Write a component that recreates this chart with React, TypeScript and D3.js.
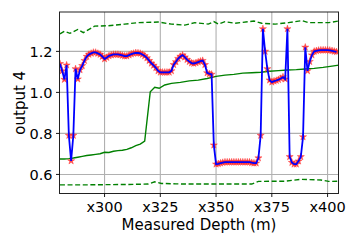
import React from "react";
import * as d3 from "d3";

// Measured depth (m) for the prediction series
const depth: number[] = d3.range(280, 405, 1);
// output 4 prediction values (one per metre)
const output4: number[] = [
  1.14, 1.105, 1.063, 1.133, 0.79, 0.666, 0.79, 1.115, 1.065, 1.11,
  1.13, 1.155, 1.175, 1.185, 1.19, 1.195, 1.195, 1.19, 1.185, 1.175,
  1.163, 1.17, 1.178, 1.182, 1.185, 1.185, 1.185, 1.183, 1.18, 1.177,
  1.177, 1.182, 1.187, 1.19, 1.193, 1.192, 1.19, 1.185, 1.178, 1.168,
  1.155, 1.142, 1.132, 1.12, 1.105, 1.098, 1.098, 1.098, 1.098, 1.098,
  1.105, 1.135, 1.149, 1.165, 1.175, 1.182, 1.172, 1.16, 1.15, 1.143,
  1.141, 1.144, 1.148, 1.152, 1.155, 1.135, 1.095, 1.09, 1.088, 0.743,
  0.65, 0.652, 0.655, 0.658, 0.66, 0.66, 0.66, 0.66, 0.66, 0.66,
  0.66, 0.66, 0.66, 0.66, 0.66, 0.66, 0.657, 0.655, 0.655, 0.68,
  0.79, 1.31, 1.2, 1.115, 1.06, 1.05, 1.055, 1.058, 1.062, 1.068,
  1.075, 1.065, 1.31, 0.686, 0.658, 0.65, 0.65, 0.665, 0.686, 0.783,
  1.22, 1.105, 1.15, 1.182, 1.2, 1.203, 1.205, 1.206, 1.206, 1.206,
  1.206, 1.205, 1.203, 1.2, 1.198,
];

// Reference (green) mean line
const meanDepth: number[] = [
  280, 282, 284, 286, 288, 290, 292, 294, 296, 298, 300, 302, 304, 306, 308,
  310, 312, 314, 316, 318, 320.5, 322.5, 324.5, 327, 330, 334, 338, 342, 346,
  350, 354, 358, 362, 366, 370, 374, 378, 382, 386, 390, 394, 398, 402, 405,
];
const meanValue: number[] = [
  0.675, 0.675, 0.677, 0.68, 0.684, 0.688, 0.692, 0.695, 0.698, 0.701, 0.708,
  0.707, 0.713, 0.716, 0.718, 0.722, 0.73, 0.74, 0.748, 0.762, 1.003, 1.025,
  1.02, 1.036, 1.044, 1.049, 1.056, 1.06, 1.068, 1.078, 1.084, 1.088, 1.094,
  1.096, 1.098, 1.103, 1.106, 1.109, 1.111, 1.114, 1.117, 1.122, 1.128, 1.133,
];

// Upper dashed bound
const upperDepth: number[] = [
  280, 282, 284.5, 288, 290.5, 295.5, 301.5, 309, 315, 324, 330, 336, 340.5,
  346.5, 349, 351, 354, 358.5, 367, 370.5, 376.5, 382.5, 388.5, 391.5, 400.5, 405,
];
const upperValue: number[] = [
  1.285, 1.298, 1.288, 1.307, 1.291, 1.323, 1.325, 1.333, 1.34, 1.343, 1.333,
  1.328, 1.34, 1.333, 1.345, 1.333, 1.345, 1.337, 1.348, 1.337, 1.333, 1.34,
  1.35, 1.34, 1.34, 1.348,
];

// Lower dashed bound
const lowerDepth: number[] = [
  280, 290, 299, 310, 319.5, 322.5, 325.5, 332, 339, 354, 366, 369, 381, 388,
  397, 400.5, 405,
];
const lowerValue: number[] = [
  0.549, 0.549, 0.55, 0.551, 0.553, 0.564, 0.556, 0.554, 0.553, 0.553, 0.553,
  0.566, 0.567, 0.576, 0.573, 0.566, 0.567,
];

const xTicks: number[] = [300, 325, 350, 375, 400];
const yTicks: number[] = [0.6, 0.8, 1.0, 1.2];

const W = 358;
const H = 244;
const L = 59.5, R = 338.5, T = 12, B = 193.5;
const FONT = "DejaVu Sans, sans-serif";

export default function App() {
  const x = d3.scaleLinear().domain([279.8, 404.9]).range([L, R]);
  const y = d3.scaleLinear().domain([0.507, 1.392]).range([B, T]);

  const line = (xs: number[], ys: number[]) =>
    d3
      .line<number>()
      .x((_, i) => x(xs[i]))
      .y((d) => y(d))(ys) || "";

  const star = d3.symbol().type(d3.symbolStar).size(16)() || "";

  return (
    <svg
      width={W}
      height={H}
      style={{ position: "absolute", left: 0, top: 0, background: "#fff" }}
      fontFamily={FONT}
    >
      <defs>
        <clipPath id="clip">
          <rect x={L} y={T} width={R - L} height={B - T} />
        </clipPath>
      </defs>
      {/* grid */}
      {xTicks.map((t) => (
        <line key={"gx" + t} x1={x(t)} x2={x(t)} y1={T} y2={B} stroke="#b0b0b0" strokeWidth={1.1} />
      ))}
      {yTicks.map((t) => (
        <line key={"gy" + t} x1={L} x2={R} y1={y(t)} y2={y(t)} stroke="#b0b0b0" strokeWidth={1.1} />
      ))}
      <g clipPath="url(#clip)">
        <path d={line(upperDepth, upperValue)} fill="none" stroke="#008000" strokeWidth={1.4} strokeDasharray="5,2.6" />
        <path d={line(lowerDepth, lowerValue)} fill="none" stroke="#008000" strokeWidth={1.4} strokeDasharray="5,2.6" />
        <path d={line(meanDepth, meanValue)} fill="none" stroke="#008000" strokeWidth={1.4} />
        {depth.map((d, i) => (
          <path
            key={"m" + d}
            d={star}
            transform={`translate(${x(d)},${y(output4[i])})`}
            fill="#ff2020"
            fillOpacity={0.8}
            stroke="#ff3030"
            strokeOpacity={0.6}
            strokeWidth={0.7}
          />
        ))}
        <path d={line(depth, output4)} fill="none" stroke="#0000ff" strokeWidth={1.8} />
      </g>
      {/* frame */}
      <rect x={L} y={T} width={R - L} height={B - T} fill="none" stroke="#222" strokeWidth={1} />
      {/* ticks */}
      {xTicks.map((t) => (
        <g key={"tx" + t}>
          <line x1={x(t)} x2={x(t)} y1={B} y2={B + 3.5} stroke="#000" strokeWidth={0.9} />
          <text x={x(t)} y={212} textAnchor="middle" fontSize={14.5} fill="#000">
            {"x" + t}
          </text>
        </g>
      ))}
      {yTicks.map((t) => (
        <g key={"ty" + t}>
          <line x1={L - 3.5} x2={L} y1={y(t)} y2={y(t)} stroke="#000" strokeWidth={0.9} />
          <text x={L - 7} y={y(t)} dy="0.36em" textAnchor="end" fontSize={14.5} fill="#000">
            {t.toFixed(1)}
          </text>
        </g>
      ))}
      <text x={(L + R) / 2} y={229.5} textAnchor="middle" fontSize={15} fill="#000">
        Measured Depth (m)
      </text>
      <text
        transform={`translate(24.5,${(T + B) / 2}) rotate(-90)`}
        textAnchor="middle"
        fontSize={15}
        fill="#000"
      >
        output 4
      </text>
    </svg>
  );
}
